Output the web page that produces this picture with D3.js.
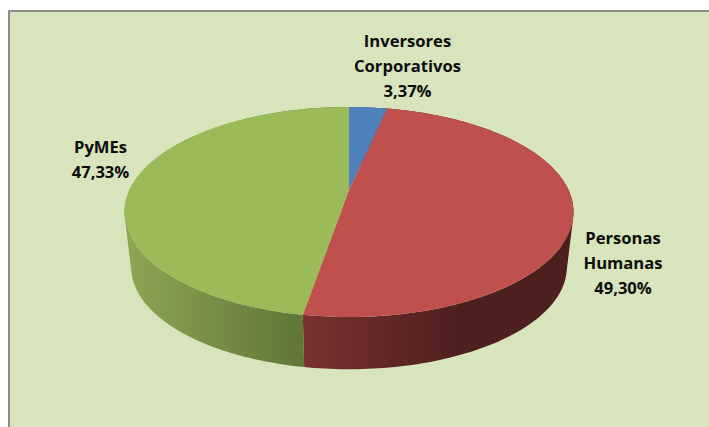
<!DOCTYPE html>
<html>
<head>
<meta charset="utf-8">
<script src="https://cdn.jsdelivr.net/npm/d3@7"></script>
<style>
html, body { margin: 0; padding: 0; background: #fff; }
svg { display: block; }
</style>
</head>
<body>
<div id="chart"></div>
<script>
var WIDTH = 709, HEIGHT = 427;

// slices, clockwise from 12 o'clock
var categories = ['Inversores Corporativos', 'Personas Humanas', 'PyMEs'];
var shares = [3.37, 49.30, 47.33];
var shareLabels = ['3,37%', '49,30%', '47,33%'];
var topColors = ['#4f81bd', '#c0504d', '#9bbb59'];
var wallColors = [
    ['#3b6190', '#3b6190'],
    ['#7a3131', '#4e1f1f'],
    ['#8ba552', '#5f7638']
];

var svg = d3.select('#chart').append('svg')
    .attr('width', WIDTH)
    .attr('height', HEIGHT);

// chart background runs off the right and bottom of the picture
svg.append('rect')
    .attr('x', 9).attr('y', 12)
    .attr('width', WIDTH - 9).attr('height', HEIGHT - 12)
    .attr('fill', '#d8e4bc');

svg.append('path')
    .attr('d', d3.line()([[9, HEIGHT], [9, 11], [WIDTH, 11]]))
    .attr('fill', 'none')
    .attr('stroke', '#8c8c8c')
    .attr('stroke-width', 2);

// perspective tilt of the disc, unit circle -> screen
var cx = 349, cyTop = 190, cyBottom = 246;
var radX = 219.5, radY = 100.4, tilt = 0.2096, bottomScale = 0.97;

function project(angle, level) {
    var u = Math.sin(angle), v = Math.cos(angle);
    var d = 1 + tilt * v;
    var s = level === 0 ? 1 : bottomScale;
    var y0 = level === 0 ? cyTop : cyBottom;
    return [cx + s * radX * u / d, y0 - s * radY * v / d];
}

var pie = d3.pie().sort(null).value(function(d) { return d; });
var arcs = pie(shares);

var defs = svg.append('defs');
var line = d3.line();

// side walls first, the top face covers the back half
arcs.forEach(function(a, i) {
    var grad = defs.append('linearGradient')
        .attr('id', 'wall-' + i)
        .attr('gradientUnits', 'userSpaceOnUse')
        .attr('x1', i === 1 ? 304 : 130).attr('x2', i === 1 ? 460 : 304)
        .attr('y1', 0).attr('y2', 0);
    grad.append('stop').attr('offset', 0).attr('stop-color', wallColors[i][0]);
    grad.append('stop').attr('offset', 1).attr('stop-color', wallColors[i][1]);

    // one path of same-wound quads, so no seams between them
    var steps = d3.range(a.startAngle, a.endAngle, 0.02).concat([a.endAngle]);
    var d = d3.pairs(steps).map(function(q) {
        var quad = [project(q[0], 0), project(q[1], 0), project(q[1], 1), project(q[0], 1)];
        if (d3.polygonArea(quad) < 0) quad.reverse();
        return line(quad) + 'Z';
    }).join('');

    svg.append('path')
        .attr('d', d)
        .attr('fill', 'url(#wall-' + i + ')');
});

// top face
svg.append('g').selectAll('path')
    .data(arcs)
    .enter()
    .append('path')
    .attr('d', function(a) {
        var steps = d3.range(a.startAngle, a.endAngle, 0.01).concat([a.endAngle]);
        var pts = [[cx, cyTop]].concat(steps.map(function(t) { return project(t, 0); }));
        return line(pts) + 'Z';
    })
    .attr('fill', function(a, i) { return topColors[i]; });

// data labels
var labelLines = [
    { lines: ['Inversores', 'Corporativos', shareLabels[0]], x: 407.5, y: 47 },
    { lines: ['Personas', 'Humanas', shareLabels[1]], x: 623, y: 244 },
    { lines: ['PyMEs', shareLabels[2]], x: 100.5, y: 153 }
];

labelLines.forEach(function(l) {
    l.lines.forEach(function(t, j) {
        svg.append('text')
            .attr('x', l.x)
            .attr('y', l.y + j * 25)
            .attr('text-anchor', 'middle')
            .attr('font-family', 'Open Sans, sans-serif')
            .attr('font-size', '16.6px')
            .attr('font-weight', 'bold')
            .attr('fill', '#0d0d0d')
            .text(t);
    });
});
</script>
</body>
</html>
